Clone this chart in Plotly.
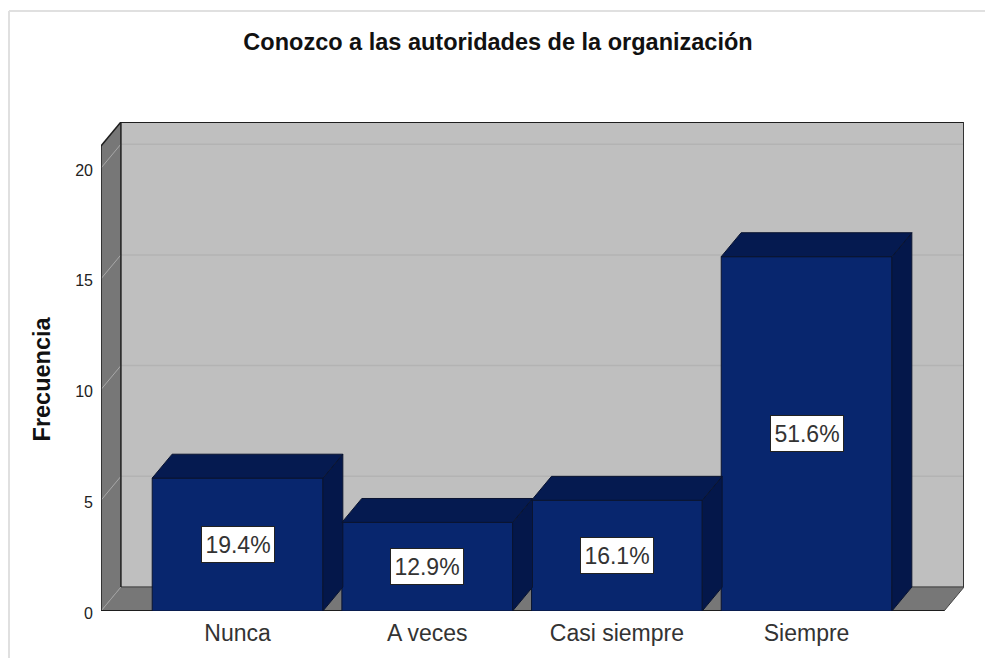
import plotly.graph_objects as go

categories = ["Nunca", "A veces", "Casi siempre", "Siempre"]
frequencies = [6, 4, 5, 16]
percent_labels = ["19.4%", "12.9%", "16.1%", "51.6%"]
y_ticks = [0, 5, 10, 15, 20]

TITLE = "Conozco a las autoridades de la organización"
Y_TITLE = "Frecuencia"

# Pseudo-3D geometry, in axis units
BAR_W = 0.90
DX = 0.105
DY = 1.08
X_MIN = -0.72
X_MAX = 3.83
Y_TOP_FRONT = 21.0
Y_MAX = 22.08

FRONT = "#08266e"
SIDE = "#04174a"
TOP = "#051a50"
EDGE = "#0a1430"
WALL = "#bfbfbf"
SIDE_WALL = "#777777"
DARK = "#1e1e1e"
TEXT = "#222222"
FONT = "Liberation Sans"

x_pos = list(range(len(categories)))
xf0, xf1 = X_MIN, X_MAX - DX  # front plane


def poly(pts):
    return "M " + " L ".join(f"{x},{y}" for x, y in pts) + " Z"


shapes = []


def add_poly(pts, fill, line=None, width=0):
    shapes.append(dict(type="path", path=poly(pts), xref="x", yref="y", layer="below",
                       fillcolor=fill, line=dict(color=line or fill, width=width)))


def add_line(x0, y0, x1, y1, color, width):
    shapes.append(dict(type="line", x0=x0, y0=y0, x1=x1, y1=y1, xref="x", yref="y",
                       layer="below", line=dict(color=color, width=width)))


# Back wall, left wall, floor
add_poly([(xf0 + DX, DY), (X_MAX, DY), (X_MAX, Y_MAX), (xf0 + DX, Y_MAX)], WALL)
add_poly([(xf0, 0), (xf0 + DX, DY), (xf0 + DX, Y_MAX), (xf0, Y_TOP_FRONT)], SIDE_WALL)
add_poly([(xf0, 0), (xf1, 0), (X_MAX, DY), (xf0 + DX, DY)], SIDE_WALL)

# Gridlines
for v in y_ticks[1:]:
    add_line(xf0, v, xf0 + DX, v + DY, "#a8a8a8", 1)
    add_line(xf0 + DX, v + DY, X_MAX, v + DY, "#b3b3b3", 1.5)
add_line(xf0, 0, xf0 + DX, DY, "#a0a0a0", 1)

# Outline
add_line(xf0 + DX, DY, X_MAX, DY, "#555555", 1.5)
add_line(xf0, 0, xf1, 0, DARK, 2)
add_line(xf1, 0, X_MAX, DY, "#444444", 1)
add_line(xf0, 0, xf0, Y_TOP_FRONT, DARK, 1.5)
add_line(xf0, Y_TOP_FRONT, xf0 + DX, Y_MAX, DARK, 1.5)
add_line(xf0 + DX, DY, xf0 + DX, Y_MAX, DARK, 1.5)
add_line(xf0 + DX, Y_MAX, X_MAX, Y_MAX, DARK, 2)
add_line(X_MAX, DY, X_MAX, Y_MAX, "#333333", 2)

# Outer page frame
shapes.append(dict(type="line", xref="paper", yref="paper", x0=-92 / 863, x1=-92 / 863,
                   y0=-47 / 489, y1=(611 - 11) / 489, layer="below",
                   line=dict(color="#e0e0e0", width=2)))
shapes.append(dict(type="line", xref="paper", yref="paper", x0=-92 / 863, x1=884 / 863,
                   y0=600 / 489, y1=600 / 489, layer="below",
                   line=dict(color="#e0e0e0", width=2)))

fig = go.Figure()
fig.add_trace(go.Bar(x=x_pos, y=frequencies, width=BAR_W,
                     marker=dict(color=FRONT, line=dict(color=EDGE, width=1)),
                     hoverinfo="skip", showlegend=False))

for x, v in zip(x_pos, frequencies):
    l, r = x - BAR_W / 2, x + BAR_W / 2
    fig.add_trace(go.Scatter(x=[r, r + DX, r + DX, r, r], y=[0, DY, v + DY, v, 0],
                             mode="lines", fill="toself", fillcolor=SIDE,
                             line=dict(color=EDGE, width=1), hoverinfo="skip", showlegend=False))
    fig.add_trace(go.Scatter(x=[l, r, r + DX, l + DX, l], y=[v, v, v + DY, v + DY, v],
                             mode="lines", fill="toself", fillcolor=TOP,
                             line=dict(color=EDGE, width=1), hoverinfo="skip", showlegend=False))

annotations = [
    dict(x=x, y=v / 2, xref="x", yref="y", text=t, showarrow=False,
         font=dict(family=FONT, size=23, color="#333333"), bgcolor="white",
         bordercolor="#222222", borderwidth=1, width=70, height=33, align="center")
    for x, v, t in zip(x_pos, frequencies, percent_labels)
]
annotations.append(dict(xref="paper", yref="y", x=-59 / 863, y=Y_TOP_FRONT * 0.5,
                        xanchor="center", yanchor="middle",
                        text=f"<b>{Y_TITLE}</b>", textangle=-90, showarrow=False,
                        font=dict(family=FONT, size=23.5, color="#111111")))

fig.update_layout(
    width=985, height=658,
    margin=dict(l=101, r=21, t=122, b=47, pad=0),
    paper_bgcolor="white", plot_bgcolor="white",
    title=dict(text=f"<b>{TITLE}</b>", x=498 / 985, xanchor="center",
               y=1 - 42 / 658, yanchor="middle",
               font=dict(family=FONT, size=23.5, color="#111111")),
    bargap=0.1, shapes=shapes, annotations=annotations,
    xaxis=dict(range=[X_MIN, X_MAX], tickmode="array", tickvals=x_pos, ticktext=categories,
               showgrid=False, zeroline=False, showline=False, ticks="", ticklabelstandoff=6,
               tickfont=dict(family=FONT, size=23, color="#333333")),
    yaxis=dict(range=[0, Y_MAX], tickmode="array", tickvals=y_ticks, showgrid=False,
               zeroline=False, showline=False, ticks="", ticklabelstandoff=7, ticklabelshift=2,
               tickfont=dict(family=FONT, size=16, color=TEXT)),
)

# Remove the page's default margin so the figure fills the 985x658 window
fig.write_html("out.html", post_script="document.body.style.margin='0';",
               config=dict(displayModeBar=False))
